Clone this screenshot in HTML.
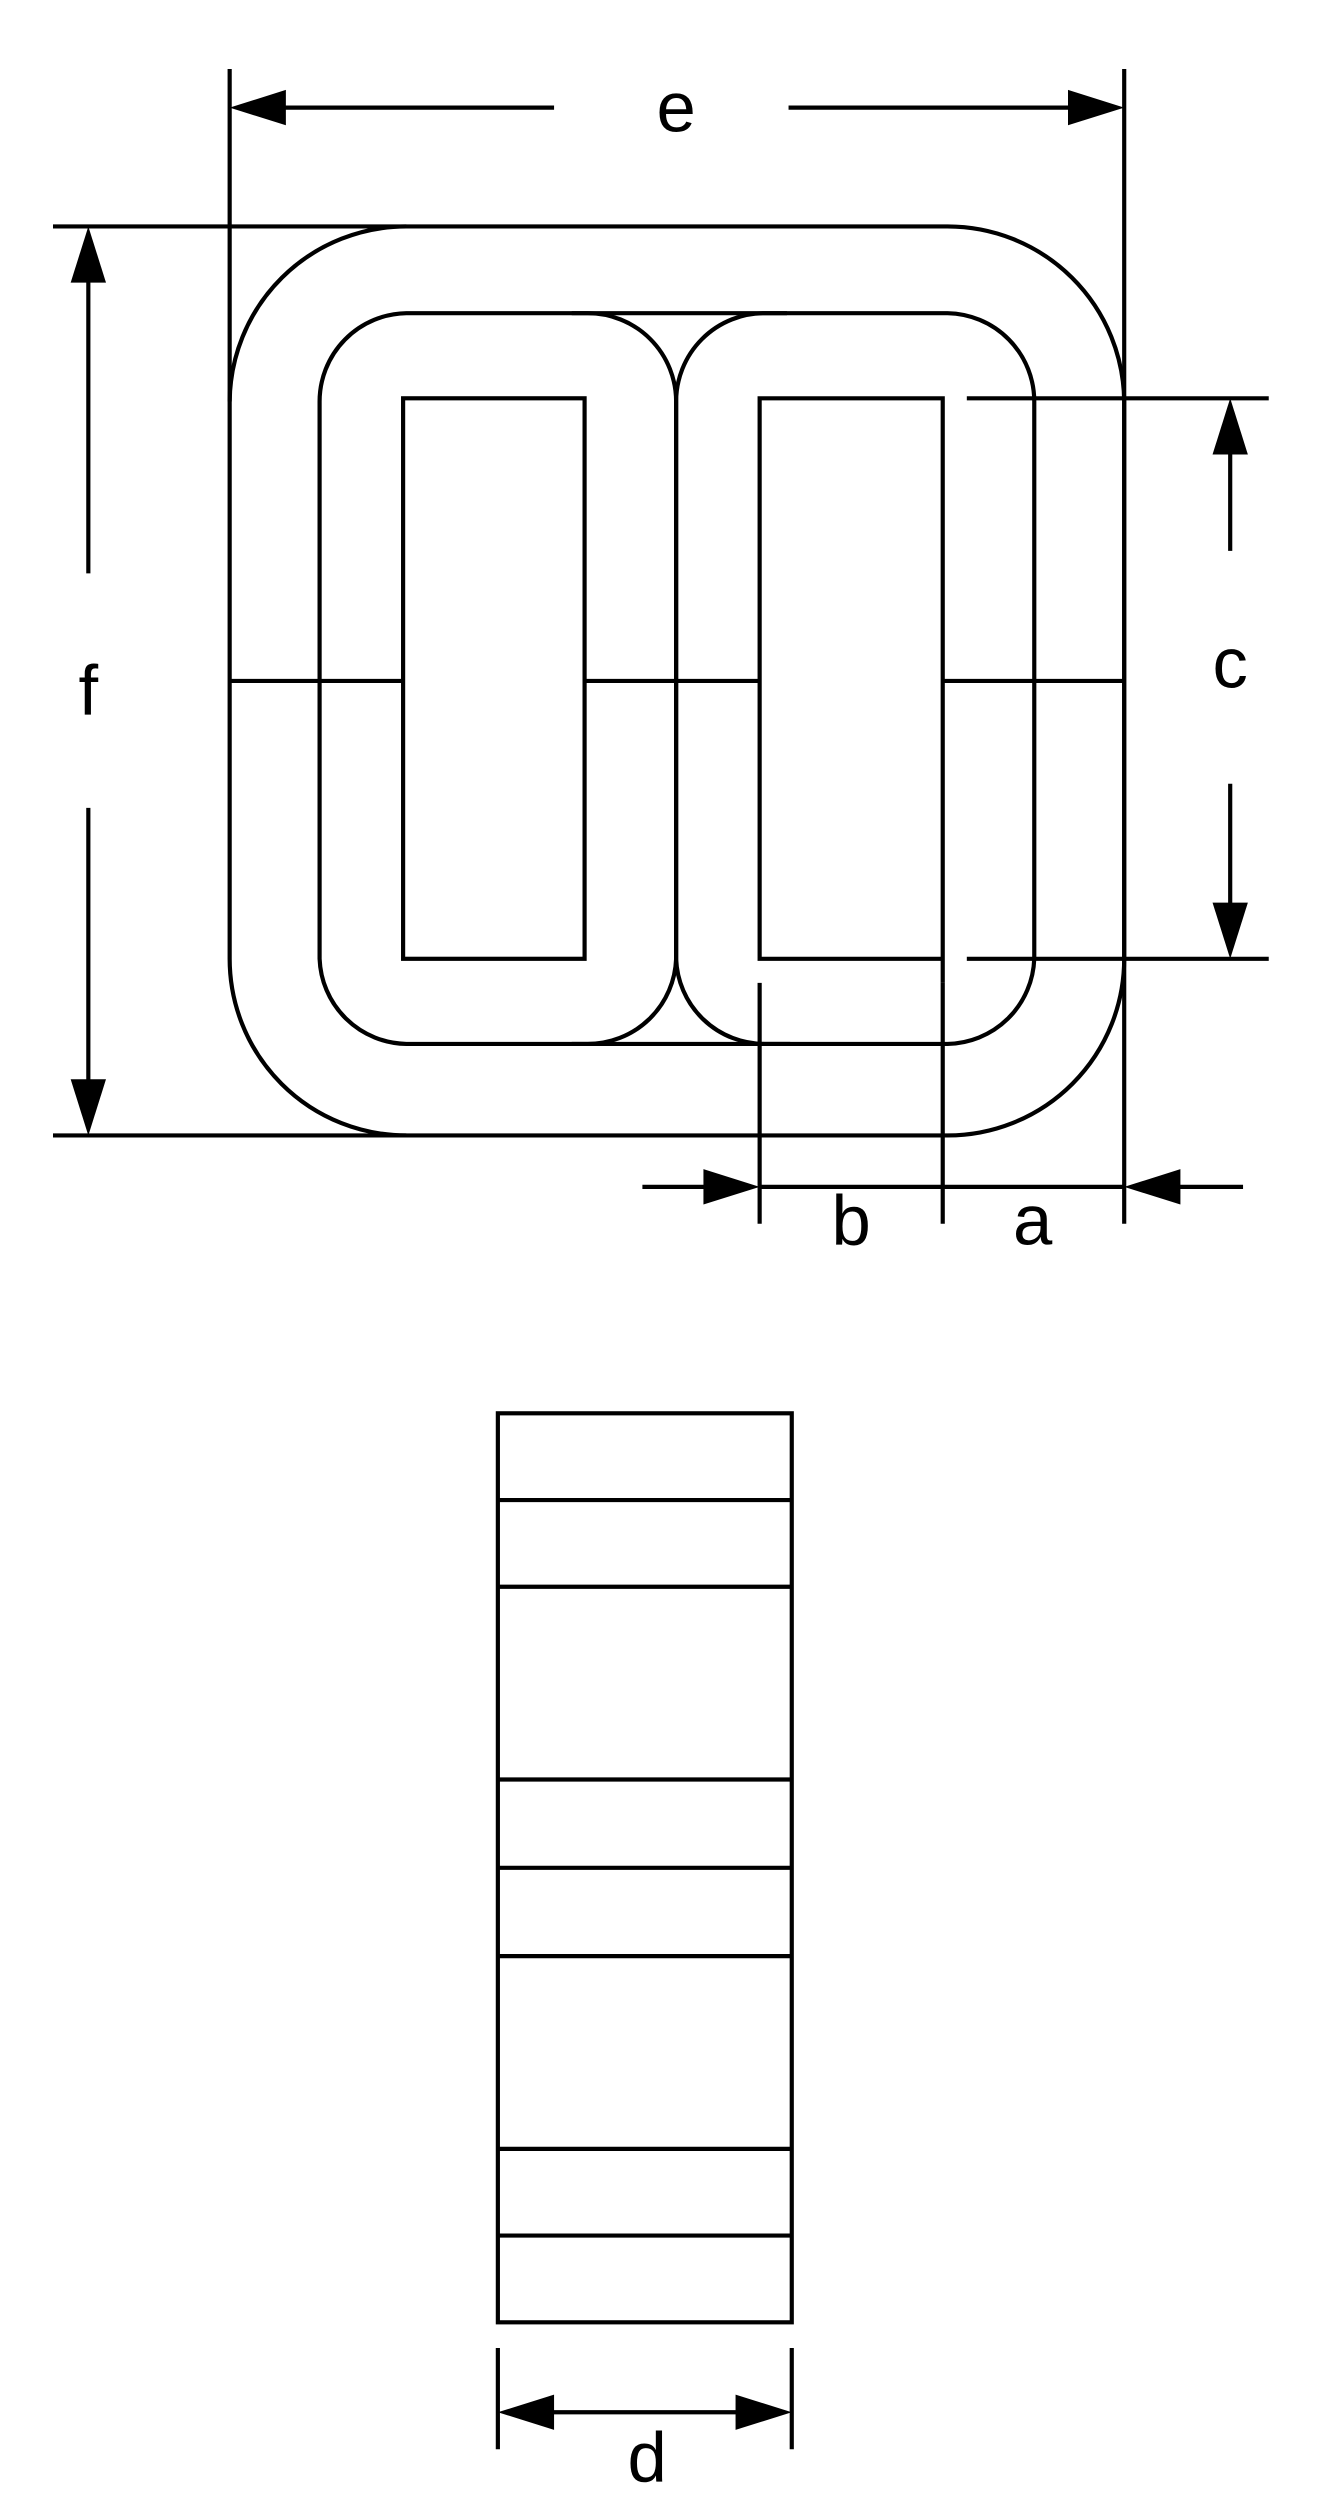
<!DOCTYPE html>
<html><head><meta charset="utf-8"><style>
html,body{margin:0;padding:0;background:#fff;}
svg{display:block;}
text{font-family:"Liberation Sans",sans-serif;font-size:44px;fill:#000;}
</style></head><body>
<svg width="1337" height="2516" viewBox="0 0 832.5 1566.6" preserveAspectRatio="none" xmlns="http://www.w3.org/2000/svg">
<g fill="none" stroke="#000" stroke-width="2.6">
<path d="M143,250 A110,110 0 0 1 253,141 L590,141 A110,110 0 0 1 700,250 L700,597 A110,110 0 0 1 590,707 L253,707 A110,110 0 0 1 143,597 Z"/>
<path d="M199,250 A55,55 0 0 1 253,195 L366,195 A55,55 0 0 1 421,250 L421,597 A55,55 0 0 1 366,650 L253,650 A55,55 0 0 1 199,597 Z"/>
<path d="M421,250 A55,55 0 0 1 476,195 L590,195 A55,55 0 0 1 644,250 L644,597 A55,55 0 0 1 590,650 L476,650 A55,55 0 0 1 421,597 Z"/>
<line x1="356" y1="195" x2="490" y2="195"/>
<line x1="356" y1="650" x2="492" y2="650"/>
<rect x="251" y="248" width="113" height="349"/>
<path d="M587,612 L587,248 L473,248 L473,597 L587,597"/>
<line x1="143" y1="424" x2="251" y2="424"/>
<line x1="364" y1="424" x2="473" y2="424"/>
<line x1="587" y1="424" x2="700" y2="424"/>
<line x1="143" y1="43" x2="143" y2="250"/>
<line x1="700" y1="43" x2="700" y2="762"/>
<line x1="175" y1="67" x2="345" y2="67"/>
<line x1="491" y1="67" x2="668" y2="67"/>
<line x1="33" y1="141" x2="253" y2="141"/>
<line x1="33" y1="707" x2="253" y2="707"/>
<line x1="55" y1="175" x2="55" y2="357"/>
<line x1="55" y1="503" x2="55" y2="673"/>
<line x1="602" y1="248" x2="790" y2="248"/>
<line x1="602" y1="597" x2="790" y2="597"/>
<line x1="766" y1="282" x2="766" y2="343"/>
<line x1="766" y1="488" x2="766" y2="563"/>
<line x1="473" y1="612" x2="473" y2="762"/>
<line x1="587" y1="612" x2="587" y2="762"/>
<line x1="400" y1="739" x2="440" y2="739"/>
<line x1="473" y1="739" x2="700" y2="739"/>
<line x1="734" y1="739" x2="774" y2="739"/>
<rect x="310" y="880" width="183" height="566"/>
<line x1="310" y1="934" x2="493" y2="934"/>
<line x1="310" y1="988" x2="493" y2="988"/>
<line x1="310" y1="1108" x2="493" y2="1108"/>
<line x1="310" y1="1163" x2="493" y2="1163"/>
<line x1="310" y1="1218" x2="493" y2="1218"/>
<line x1="310" y1="1338" x2="493" y2="1338"/>
<line x1="310" y1="1392" x2="493" y2="1392"/>
<line x1="310" y1="1462" x2="310" y2="1525"/>
<line x1="493" y1="1462" x2="493" y2="1525"/>
<line x1="340" y1="1502" x2="463" y2="1502"/>
</g>
<g fill="#000">
<polygon points="143,67 178,56 178,78"/>
<polygon points="700,67 665,56 665,78"/>
<polygon points="55,141 44,176 66,176"/>
<polygon points="55,707 44,672 66,672"/>
<polygon points="766,248 755,283 777,283"/>
<polygon points="766,597 755,562 777,562"/>
<polygon points="473,739 438,728 438,750"/>
<polygon points="700,739 735,728 735,750"/>
<polygon points="310,1502 345,1491 345,1513"/>
<polygon points="493,1502 458,1491 458,1513"/>
</g>
<text x="421" y="82" text-anchor="middle">e</text>
<text x="55" y="445" text-anchor="middle">f</text>
<text x="766" y="428" text-anchor="middle">c</text>
<text x="530" y="775" text-anchor="middle">b</text>
<text x="643" y="775" text-anchor="middle">a</text>
<text x="403" y="1545" text-anchor="middle">d</text>
</svg>
</body></html>
